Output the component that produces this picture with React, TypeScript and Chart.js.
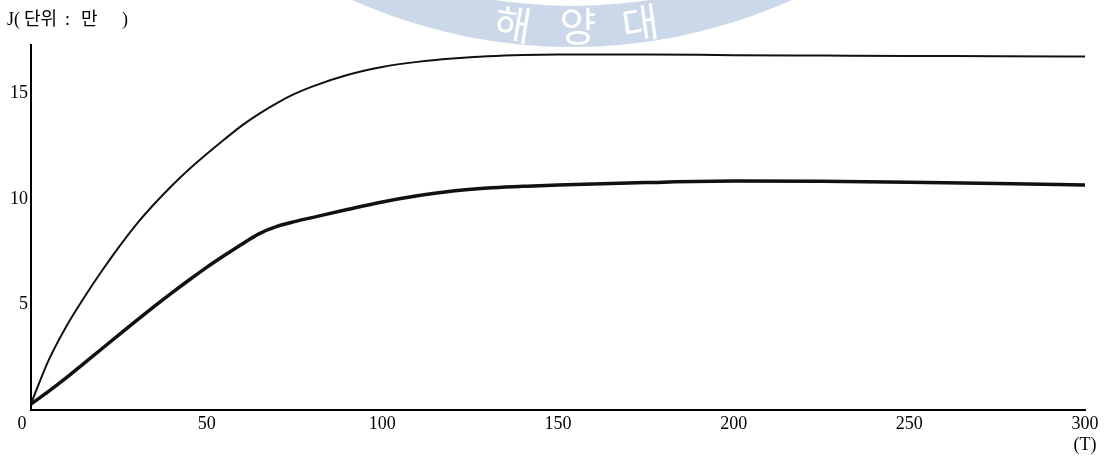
import React, { useEffect, useRef } from "react";
import { Chart, registerables } from "chart.js";

Chart.register(...registerables);

const T = [0, 5, 10, 15, 20, 25, 30, 35, 40, 45, 50, 55, 60, 65, 70, 75, 80, 90, 100, 110, 120, 130, 140, 150, 175, 200, 225, 250, 275, 300];
const upperSeries = [0.3, 2.35, 3.95, 5.3, 6.55, 7.72, 8.8, 9.75, 10.62, 11.41, 12.13, 12.82, 13.48, 14.05, 14.55, 14.98, 15.33, 15.88, 16.26, 16.5, 16.66, 16.77, 16.83, 16.85, 16.85, 16.82, 16.8, 16.78, 16.77, 16.75];
const lowerSeries = [0.28, 0.88, 1.52, 2.2, 2.88, 3.56, 4.24, 4.9, 5.54, 6.16, 6.76, 7.32, 7.86, 8.36, 8.7, 8.93, 9.12, 9.5, 9.86, 10.15, 10.38, 10.52, 10.6, 10.67, 10.78, 10.85, 10.84, 10.8, 10.74, 10.66];
const xTicks = [0, 50, 100, 150, 200, 250, 300];
const yTicks = [5, 10, 15];
const yTitleParts = ["J(", "단위", ":", "만", ")"];
const xUnit = "(T)";
const watermark = ["해", "양", "대"];

const SERIF = '"Liberation Serif", "DejaVu Serif", "Noto Sans CJK KR", serif';

export default function App() {
  const ref = useRef<HTMLCanvasElement>(null);

  useEffect(() => {
    document.body.style.margin = "0";
    const canvas = ref.current;
    if (!canvas) return;

    const decor = {
      id: "decor",
      beforeDraw(chart: any) {
        const ctx = chart.ctx;
        ctx.save();
        // faint seal watermark
        ctx.fillStyle = "#cbd8e9";
        ctx.beginPath();
        ctx.arc(572, -491, 538, 0, Math.PI * 2);
        ctx.arc(572, -491, 497, 0, Math.PI * 2);
        ctx.fill("evenodd");
        ctx.fillStyle = "#ffffff";
        ctx.font = '40px "Noto Sans CJK KR"';
        ctx.textAlign = "center";
        ctx.textBaseline = "middle";
        const pos = [
          [513, 24, 0.16],
          [578, 26, 0],
          [640, 23, -0.14],
        ];
        watermark.forEach((ch, i) => {
          const [x, y, a] = pos[i];
          ctx.save();
          ctx.translate(x, y);
          ctx.rotate(a);
          ctx.fillText(ch, 0, 0);
          ctx.restore();
        });
        ctx.restore();
      },
      afterDraw(chart: any) {
        const ctx = chart.ctx;
        ctx.save();
        ctx.fillStyle = "#000";
        ctx.font = "18px " + SERIF;
        ctx.textAlign = "left";
        ctx.textBaseline = "middle";
        const xs = [7, 24, 65, 81, 122];
        yTitleParts.forEach((p, i) => ctx.fillText(p, xs[i], 20));
        ctx.restore();
      },
    };

    const chart = new Chart(canvas, {
      type: "line",
      data: {
        datasets: [
          {
            data: T.map((x, i) => ({ x, y: upperSeries[i] })),
            borderColor: "#111",
            borderWidth: 2,
            pointRadius: 0,
            cubicInterpolationMode: "monotone",
            fill: false,
          },
          {
            data: T.map((x, i) => ({ x, y: lowerSeries[i] })),
            borderColor: "#111",
            borderWidth: 3.5,
            pointRadius: 0,
            cubicInterpolationMode: "monotone",
            fill: false,
          },
        ],
      },
      options: {
        animation: false,
        responsive: false,
        events: [],
        layout: { padding: { top: 45, right: 24, left: 0, bottom: 0 } },
        plugins: {
          legend: { display: false },
          tooltip: { enabled: false },
          title: { display: false },
        },
        scales: {
          x: {
            type: "linear",
            min: 0,
            max: 300,
            grid: { display: false, drawTicks: false },
            border: { display: true, color: "#000", width: 2 },
            afterFit: (s: any) => {
              s.height = 50;
            },
            afterBuildTicks: (s: any) => {
              s.ticks = xTicks.map((v) => ({ value: v }));
            },
            ticks: {
              padding: 3,
              color: "#000",
              maxRotation: 0,
              autoSkip: false,
              font: { family: SERIF, size: 18 },
              callback: (v: any) => {
                if (v === 0) return "0    ";
                if (v === 300) return ["300", xUnit];
                return String(v);
              },
            },
          },
          y: {
            type: "linear",
            min: 0,
            max: 17.3,
            grid: { display: false, drawTicks: false },
            border: { display: true, color: "#000", width: 2 },
            afterFit: (s: any) => {
              s.width = 31;
            },
            afterBuildTicks: (s: any) => {
              s.ticks = yTicks.map((v) => ({ value: v }));
            },
            ticks: {
              padding: 3,
              color: "#000",
              font: { family: SERIF, size: 18 },
            },
          },
        },
      },
      plugins: [decor],
    });

    return () => chart.destroy();
  }, []);

  return (
    <div style={{ width: 1109, height: 460, background: "#fff" }}>
      <canvas ref={ref} width={1109} height={460} style={{ display: "block" }} />
    </div>
  );
}
